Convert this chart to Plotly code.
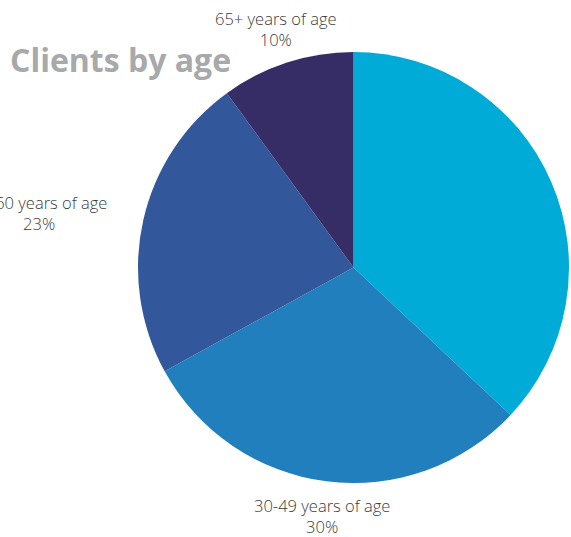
import math
import plotly.graph_objects as go

# Client age distribution
age_groups = ["18-29 years of age", "30-49 years of age", "50-60 years of age", "65+ years of age"]
shares = [37, 30, 23, 10]
slice_colors = ["#00ABD8", "#217FBD", "#32579A", "#372D66"]

W, H = 571, 537
M_L, M_R, M_T, M_B = 136, 0, 52, 54
plot_w = W - M_L - M_R
plot_h = H - M_T - M_B
radius = min(plot_w, plot_h) / 2
cx = M_L + plot_w / 2
cy = M_T + plot_h / 2
label_gap = 35

fig = go.Figure(
    go.Pie(
        labels=age_groups,
        values=shares,
        sort=False,
        direction="clockwise",
        rotation=0,
        marker=dict(colors=slice_colors, line=dict(width=0)),
        textinfo="none",
        hoverinfo="label+percent",
        showlegend=False,
    )
)

label_font = dict(family="Open Sans", size=16.5, color="#3b3b3b", weight=300)

# Outside labels placed along each slice's mid-angle (name above, share below)
total = sum(shares)
acc = 0
for name, val in zip(age_groups, shares):
    mid = (acc + val / 2) / total * 2 * math.pi
    acc += val
    s, c = math.sin(mid), math.cos(mid)
    px = cx + (radius + label_gap) * s
    py = cy - (radius + label_gap) * c
    if abs(s) > 0.7:
        anchor = "left" if s > 0 else "right"
    else:
        anchor = "center"
    fig.add_annotation(
        x=(px - M_L) / plot_w,
        y=1 - (py - M_T) / plot_h,
        xref="paper",
        yref="paper",
        text=f"{name}<br>{round(val / total * 100)}%",
        showarrow=False,
        xanchor=anchor,
        yanchor="middle",
        align="center",
        font=label_font,
    )

fig.update_layout(
    width=W,
    height=H,
    margin=dict(l=M_L, r=M_R, t=M_T, b=M_B),
    paper_bgcolor="white",
    plot_bgcolor="white",
    title=dict(
        text="<b>Clients by age</b>",
        x=10 / W,
        xref="container",
        xanchor="left",
        y=1 - 61 / H,
        yref="container",
        yanchor="middle",
        font=dict(family="Open Sans", size=32, color="#A8A9AB"),
    ),
)

fig.write_html("out.html")
